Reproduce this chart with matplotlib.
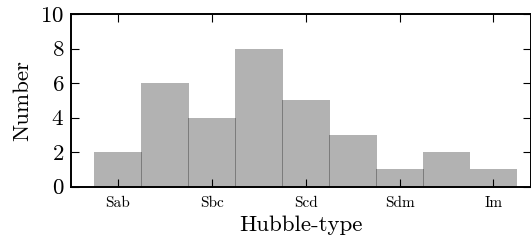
import numpy as np
import matplotlib
matplotlib.use("Agg")
import matplotlib.pyplot as plt

plt.rcParams['font.family'] = 'serif'
plt.rcParams['font.serif'] = ['cmr10']
plt.rcParams['mathtext.fontset'] = 'cm'
plt.rcParams['axes.formatter.use_mathtext'] = True

# counts per Hubble-type bin
counts = [2, 6, 4, 8, 5, 3, 1, 2, 1]
tick_labels = ["Sab", "Sbc", "Scd", "Sdm", "Im"]
tick_pos = [0, 2, 4, 6, 8]

fig = plt.figure(figsize=(5.31, 2.46), dpi=100)
ax = fig.add_axes([71 / 531, 1 - 186.5 / 246, 460 / 531, (186.5 - 14) / 246])

x = np.arange(len(counts))
# translucent black bars, overlapping slightly so shared edges darken
ax.bar(x, counts, width=1.02, color="k", alpha=0.3, linewidth=0)

ax.set_xlim(-1, 8.8)
ax.set_ylim(0, 10)
ax.set_xticks(tick_pos)
ax.set_xticklabels(tick_labels, fontsize=11)
ax.set_yticks([0, 2, 4, 6, 8, 10])
ax.tick_params(axis='y', labelsize=16.5, pad=5)
ax.tick_params(axis='x', pad=7)
ax.tick_params(direction='in', length=5.5, width=0.8, top=True, right=True)
for s in ax.spines.values():
    s.set_linewidth(1.4)

ax.set_xlabel("Hubble-type", fontsize=16.5, labelpad=4)
ax.set_ylabel("Number", fontsize=16.5, labelpad=6)

fig.savefig("out.png", dpi=100)
